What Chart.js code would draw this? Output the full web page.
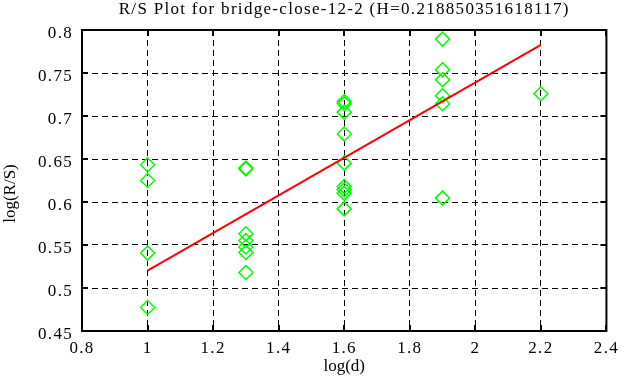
<!DOCTYPE html>
<html>
<head>
<meta charset="utf-8">
<script src="https://cdn.jsdelivr.net/npm/chart.js@4.4.0/dist/chart.umd.min.js"></script>
<style>
  html, body { margin: 0; padding: 0; background: #fff; }
  #wrap { width: 626px; height: 387px; }
</style>
</head>
<body>
<div id="wrap"><canvas id="c" width="626" height="387"></canvas></div>
<script>
// ---- data ----
const titleText = 'R/S Plot for bridge-close-12-2 (H=0.218850351618117)';
const xTitle = 'log(d)';
const yTitle = 'log(R/S)';

const logD = [
  1, 1, 1, 1,
  1.3, 1.3, 1.3, 1.3, 1.3, 1.3, 1.3,
  1.6, 1.6, 1.6, 1.6, 1.6, 1.6, 1.6, 1.6, 1.6,
  1.9, 1.9, 1.9, 1.9, 1.9, 1.9,
  2.2
];
const logRS = [
  0.6433, 0.625, 0.5406, 0.4773,
  0.6383, 0.6395, 0.563, 0.5552, 0.5476, 0.5413, 0.518,
  0.7169, 0.7142, 0.7045, 0.679, 0.6452, 0.618, 0.6142, 0.6103, 0.592,
  0.7894, 0.7537, 0.7421, 0.7235, 0.7142, 0.6045,
  0.7258
];
const fitX = [1, 2.2];
const fitY = [0.5203, 0.7828];

const xTicks = [0.8, 1, 1.2, 1.4, 1.6, 1.8, 2, 2.2, 2.4];
const xTickLabels = ['0.8', '1', '1.2', '1.4', '1.6', '1.8', '2', '2.2', '2.4'];
const yTicks = [0.45, 0.5, 0.55, 0.6, 0.65, 0.7, 0.75, 0.8];
const yTickLabels = ['0.45', '0.5', '0.55', '0.6', '0.65', '0.7', '0.75', '0.8'];

// ---- chart ----
const FONT = 'Liberation Serif, Times New Roman, serif';
const SPACING = '1.3px';

const points = logD.map((x, i) => ({ x: x, y: logRS[i] }));
const fit = fitX.map((x, i) => ({ x: x, y: fitY[i] }));

const edgeColor = (n) => (c) => (c.index === 0 || c.index === n - 1) ? 'rgba(0,0,0,0)' : '#000';

const framePlugin = {
  id: 'frame',
  beforeLayout(chart) { chart.ctx.letterSpacing = SPACING; },
  beforeDraw(chart) { chart.ctx.letterSpacing = SPACING; },
  afterDraw(chart) {
    const ctx = chart.ctx;
    const a = chart.chartArea;
    const xs = chart.scales.x, ys = chart.scales.y;
    ctx.save();
    // box
    ctx.strokeStyle = '#000';
    ctx.lineWidth = 2;
    ctx.setLineDash([]);
    ctx.strokeRect(a.left, a.top, a.right - a.left, a.bottom - a.top);
    // inward tick marks
    const tl = 6;
    ctx.beginPath();
    xTicks.forEach(v => {
      const px = Math.round(xs.getPixelForValue(v));
      ctx.moveTo(px, a.bottom); ctx.lineTo(px, a.bottom - tl);
      ctx.moveTo(px, a.top); ctx.lineTo(px, a.top + tl);
    });
    yTicks.forEach(v => {
      const py = Math.round(ys.getPixelForValue(v));
      ctx.moveTo(a.left, py); ctx.lineTo(a.left + tl, py);
      ctx.moveTo(a.right, py); ctx.lineTo(a.right - tl, py);
    });
    ctx.stroke();
    // title
    ctx.fillStyle = '#000';
    ctx.font = '17px ' + FONT;
    ctx.letterSpacing = SPACING;
    ctx.textAlign = 'center';
    ctx.textBaseline = 'alphabetic';
    ctx.fillText(titleText, (a.left + a.right) / 2, 14);
    // axis titles
    ctx.letterSpacing = '0px';
    ctx.fillText(xTitle, (a.left + a.right) / 2, 371);
    ctx.translate(14.5, 193.5);
    ctx.rotate(-Math.PI / 2);
    ctx.fillText(yTitle, 0, 0);
    ctx.restore();
  }
};

new Chart(document.getElementById('c'), {
  type: 'scatter',
  data: {
    datasets: [
      {
        label: 'fit',
        data: fit,
        showLine: true,
        borderColor: '#ff0000',
        borderWidth: 2,
        pointRadius: 0,
        fill: false,
        order: 0
      },
      {
        label: 'R/S',
        data: points,
        pointStyle: 'rectRot',
        pointRadius: 7,
        pointBorderWidth: 1.5,
        pointBorderColor: '#00ff00',
        pointBackgroundColor: 'rgba(0,0,0,0)',
        showLine: false,
        order: 1
      }
    ]
  },
  options: {
    responsive: false,
    animation: false,
    devicePixelRatio: 1,
    layout: { padding: { top: 30, right: 16, left: 0, bottom: 0 } },
    plugins: {
      legend: { display: false },
      tooltip: { enabled: false },
      title: { display: false }
    },
    scales: {
      x: {
        type: 'linear',
        min: 0.8, max: 2.4,
        afterBuildTicks: (s) => { s.ticks = xTicks.map(v => ({ value: v })); },
        afterFit: (s) => { s.height = 56; },
        ticks: {
          color: '#000',
          font: { family: FONT, size: 17 },
          padding: 7,
          maxRotation: 0,
          autoSkip: false,
          callback: (v, i) => xTickLabels[i]
        },
        grid: { color: edgeColor(xTicks.length), lineWidth: 1, drawTicks: false },
        border: { display: false, dash: [6, 4] }
      },
      y: {
        type: 'linear',
        min: 0.45, max: 0.8,
        afterBuildTicks: (s) => { s.ticks = yTicks.map(v => ({ value: v })); },
        afterFit: (s) => { s.width = 82; },
        ticks: {
          color: '#000',
          font: { family: FONT, size: 17 },
          padding: 9,
          labelOffset: 3.5,
          autoSkip: false,
          callback: (v, i) => yTickLabels[i]
        },
        grid: { color: edgeColor(yTicks.length), lineWidth: 1, drawTicks: false },
        border: { display: false, dash: [6, 4] }
      }
    }
  },
  plugins: [framePlugin]
});
</script>
</body>
</html>
